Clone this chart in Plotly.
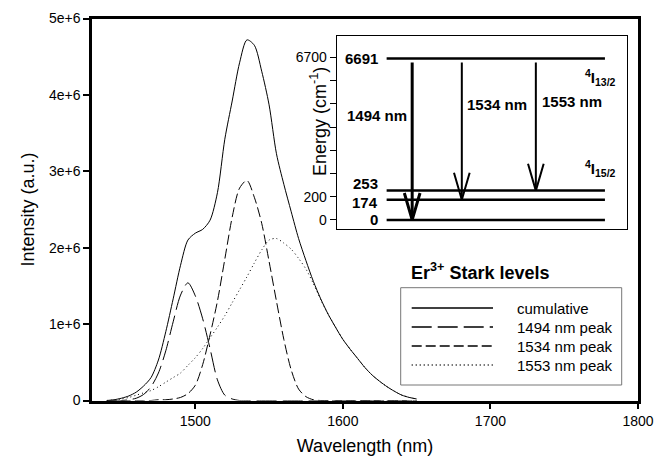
import plotly.graph_objects as go

# ---------------- data ----------------
wavelength = [1440, 1445, 1450, 1455, 1460, 1465, 1470, 1475, 1480, 1485,
              1490, 1495, 1500, 1505, 1510, 1515, 1520, 1525, 1530, 1535,
              1540, 1545, 1550, 1555, 1560, 1565, 1570, 1575, 1580, 1585,
              1590, 1595, 1600, 1605, 1610, 1615, 1620, 1625, 1630, 1635,
              1640, 1645, 1650]

cumulative = [0.00, 0.01, 0.03, 0.06, 0.11, 0.19, 0.30, 0.53, 0.90, 1.33,
              1.77, 2.10, 2.19, 2.24, 2.36, 2.72, 3.42, 3.92, 4.42, 4.72,
              4.65, 4.31, 3.87, 3.23, 2.83, 2.47, 2.12, 1.83, 1.56, 1.33,
              1.13, 0.96, 0.80, 0.67, 0.55, 0.43, 0.33, 0.25, 0.18, 0.12,
              0.07, 0.04, 0.02]

peak_1494 = [0.00, 0.00, 0.00, 0.01, 0.03, 0.08, 0.18, 0.36, 0.65, 1.03,
             1.38, 1.54, 1.37, 1.07, 0.68, 0.27, 0.07, 0.02, 0.00, 0.00,
             0.00, 0.00, 0.00, 0.00, 0.00, 0.00, 0.00, 0.00, 0.00, 0.00,
             0.00, 0.00, 0.00, 0.00, 0.00, 0.00, 0.00, 0.00, 0.00, 0.00,
             0.00, 0.00, 0.00]

peak_1534 = [0.00, 0.00, 0.00, 0.00, 0.00, 0.00, 0.00, 0.01, 0.01, 0.02,
             0.04, 0.09, 0.20, 0.47, 0.86, 1.30, 1.85, 2.40, 2.78, 2.88,
             2.66, 2.32, 1.82, 1.30, 0.80, 0.40, 0.15, 0.05, 0.01, 0.00,
             0.00, 0.00, 0.00, 0.00, 0.00, 0.00, 0.00, 0.00, 0.00, 0.00,
             0.00, 0.00, 0.00]

peak_1553 = [0.00, 0.01, 0.02, 0.04, 0.07, 0.10, 0.13, 0.18, 0.24, 0.30,
             0.36, 0.46, 0.56, 0.68, 0.82, 0.96, 1.11, 1.28, 1.45, 1.62,
             1.80, 1.97, 2.10, 2.12, 2.06, 1.98, 1.86, 1.72, 1.53, 1.32,
             1.13, 0.96, 0.80, 0.67, 0.55, 0.43, 0.33, 0.25, 0.18, 0.12,
             0.07, 0.04, 0.02]

intensity_scale = 1e6
y_tick_values = [0, 1e6, 2e6, 3e6, 4e6, 5e6]
y_tick_labels = ["0", "1e+6", "2e+6", "3e+6", "4e+6", "5e+6"]
x_tick_values = [1500, 1600, 1700, 1800]

series_names = ["cumulative", "1494 nm peak", "1534 nm peak", "1553 nm peak"]
series_dash = ["solid", "20px,6px", "10px,4px", "1px,3px"]

# Er3+ Stark levels (cm-1)
level_energies = [0, 174, 253, 6691]
level_labels = ["0", "174", "253", "6691"]
level_label_shift = [0, -3, 7, 0]          # px nudges so labels don't collide
upper_level = 6691
transition_lower = [0, 174, 253]
transition_labels = ["1494 nm", "1534 nm", "1553 nm"]
inset_tick_energies = [0, 200, 6700]
inset_tick_labels = ["0", "200", "6700"]

# ---------------- helpers ----------------
W, H = 670, 465
FONT = "Liberation Sans, Arial, sans-serif"


def px(x):
    return x / W


def py(y):
    return 1 - y / H


def energy_to_axis(e):
    # broken energy axis of the inset: 200 cm-1 per tick below the break,
    # the upper manifold sits around the 6700 tick
    if e < 1000:
        return e / 200.0
    return 7 + (e - 6700) / 200.0


fig = go.Figure()

# ---------------- main spectra ----------------
all_series = [cumulative, peak_1494, peak_1534, peak_1553]
for name, vals, dash in zip(series_names, all_series, series_dash):
    fig.add_trace(go.Scatter(
        x=wavelength, y=[v * intensity_scale for v in vals],
        mode="lines", name=name, showlegend=False,
        line=dict(color="black", width=1, dash=dash, shape="spline",
                  smoothing=0.8),
        xaxis="x", yaxis="y"))

# ---------------- inset: energy levels ----------------
lvl_x0, lvl_x1 = 0.172, 0.924
for e in level_energies:
    d = energy_to_axis(e)
    fig.add_trace(go.Scatter(
        x=[lvl_x0, lvl_x1], y=[d, d], mode="lines", showlegend=False,
        line=dict(color="black", width=2.5), xaxis="x2", yaxis="y2",
        hoverinfo="skip"))

arrow_x = [0.26, 0.431, 0.686]
arrow_w = [3, 2, 2]
wing_dx, wing_dy = 0.027, 1.16
d_up = energy_to_axis(upper_level)
for ax, low, w in zip(arrow_x, transition_lower, arrow_w):
    d_low = energy_to_axis(low)
    fig.add_trace(go.Scatter(
        x=[ax, ax], y=[d_up - 0.17, d_low], mode="lines", showlegend=False,
        line=dict(color="black", width=w), xaxis="x2", yaxis="y2",
        hoverinfo="skip"))
    fig.add_trace(go.Scatter(
        x=[ax - wing_dx, ax, ax + wing_dx],
        y=[d_low + wing_dy, d_low, d_low + wing_dy],
        mode="lines", showlegend=False,
        line=dict(color="black", width=w), xaxis="x2", yaxis="y2",
        hoverinfo="skip"))

annotations = []
for e, lab, sh in zip(level_energies, level_labels, level_label_shift):
    annotations.append(dict(
        x=0.149, y=energy_to_axis(e), yshift=sh, xref="x2", yref="y2",
        text="<b>%s</b>" % lab, showarrow=False, xanchor="right",
        yanchor="middle", font=dict(size=15, color="black", family=FONT)))

label_pos = [(0.138, 4.5), (0.551, 4.96), (0.81, 5.1)]
for (lx, ly), lab in zip(label_pos, transition_labels):
    annotations.append(dict(
        x=lx, y=ly, xref="x2", yref="y2", text="<b>%s</b>" % lab,
        showarrow=False, font=dict(size=15, color="black", family=FONT)))

annotations.append(dict(
    x=0.91, y=energy_to_axis(6691), yshift=-19, xref="x2", yref="y2",
    text="<b><sup>4</sup>I<sub>13/2</sub></b>", showarrow=False,
    font=dict(size=15, color="black", family=FONT)))
annotations.append(dict(
    x=0.91, y=energy_to_axis(253), yshift=22, xref="x2", yref="y2",
    text="<b><sup>4</sup>I<sub>15/2</sub></b>", showarrow=False,
    font=dict(size=15, color="black", family=FONT)))

annotations.append(dict(
    x=px(318), y=py(122), xref="paper", yref="paper",
    xanchor="center", yanchor="middle",
    text="Energy (cm<sup>-1</sup>)", textangle=-90, showarrow=False,
    font=dict(size=18, color="black", family=FONT)))

# ---------------- legend (drawn as a boxed key) ----------------
shapes = [dict(type="rect", xref="paper", yref="paper",
               x0=px(400.7), x1=px(621.7), y0=py(385), y1=py(287.7),
               line=dict(color="#777777", width=1))]
row_y = [308, 327, 346, 365]
for name, dash, ry in zip(series_names, series_dash, row_y):
    shapes.append(dict(type="line", xref="paper", yref="paper",
                       x0=px(411.7), x1=px(493), y0=py(ry), y1=py(ry),
                       line=dict(color="black", width=1.5, dash=dash)))
    annotations.append(dict(x=px(515), y=py(ry), xref="paper", yref="paper",
                            text=name, showarrow=False, xanchor="left",
                            yanchor="middle",
                            font=dict(size=15, color="black", family=FONT)))
annotations.append(dict(x=px(409), y=py(271), xref="paper", yref="paper",
                        text="<b>Er<sup>3+</sup> Stark levels</b>",
                        showarrow=False, xanchor="left", yanchor="middle",
                        font=dict(size=18, color="black", family=FONT)))

fig.update_layout(
    width=W, height=H,
    margin=dict(l=0, r=0, t=0, b=0),
    paper_bgcolor="white", plot_bgcolor="white",
    font=dict(family=FONT, color="black", size=14),
    showlegend=False,
    xaxis=dict(domain=[px(92), px(638)], range=[1430, 1800],
               tickvals=x_tick_values, ticks="outside", ticklen=6,
               tickwidth=1.5, tickcolor="black",
               showline=True, mirror=True, linewidth=2.5, linecolor="black",
               showgrid=False, zeroline=False, automargin=False,
               tickfont=dict(size=14),
               title=dict(text="Wavelength (nm)", standoff=12,
                          font=dict(size=18))),
    yaxis=dict(domain=[py(400.5), py(18.5)], range=[0, 5e6],
               tickvals=y_tick_values, ticktext=y_tick_labels,
               ticks="outside", ticklen=6, tickwidth=1.5, tickcolor="black",
               showline=True, mirror=True, linewidth=2.5, linecolor="black",
               showgrid=False, zeroline=False, automargin=False,
               tickfont=dict(size=14),
               title=dict(text="Intensity (a.u.)", standoff=10,
                          font=dict(size=18))),
    xaxis2=dict(domain=[px(336.7), px(627)], range=[0, 1], anchor="y2",
                showticklabels=False, ticks="", showline=True, mirror=True,
                linewidth=1, linecolor="black", showgrid=False,
                zeroline=False, fixedrange=True),
    yaxis2=dict(domain=[py(229), py(35.7)], range=[-0.39, 7.94],
                anchor="x2",
                tickvals=[energy_to_axis(e) for e in inset_tick_energies],
                ticktext=inset_tick_labels, ticks="outside", ticklen=6,
                tickwidth=1, tickcolor="black", showline=True, mirror=True,
                linewidth=1, linecolor="black", showgrid=False,
                zeroline=False, tickfont=dict(size=14), automargin=False,
                minor=dict(tickvals=[2, 3, 4, 5, 6], ticks="outside",
                           ticklen=6, tickwidth=1, tickcolor="black",
                           showgrid=False)),
    annotations=annotations,
    shapes=shapes,
)

fig.write_html("out.html")
